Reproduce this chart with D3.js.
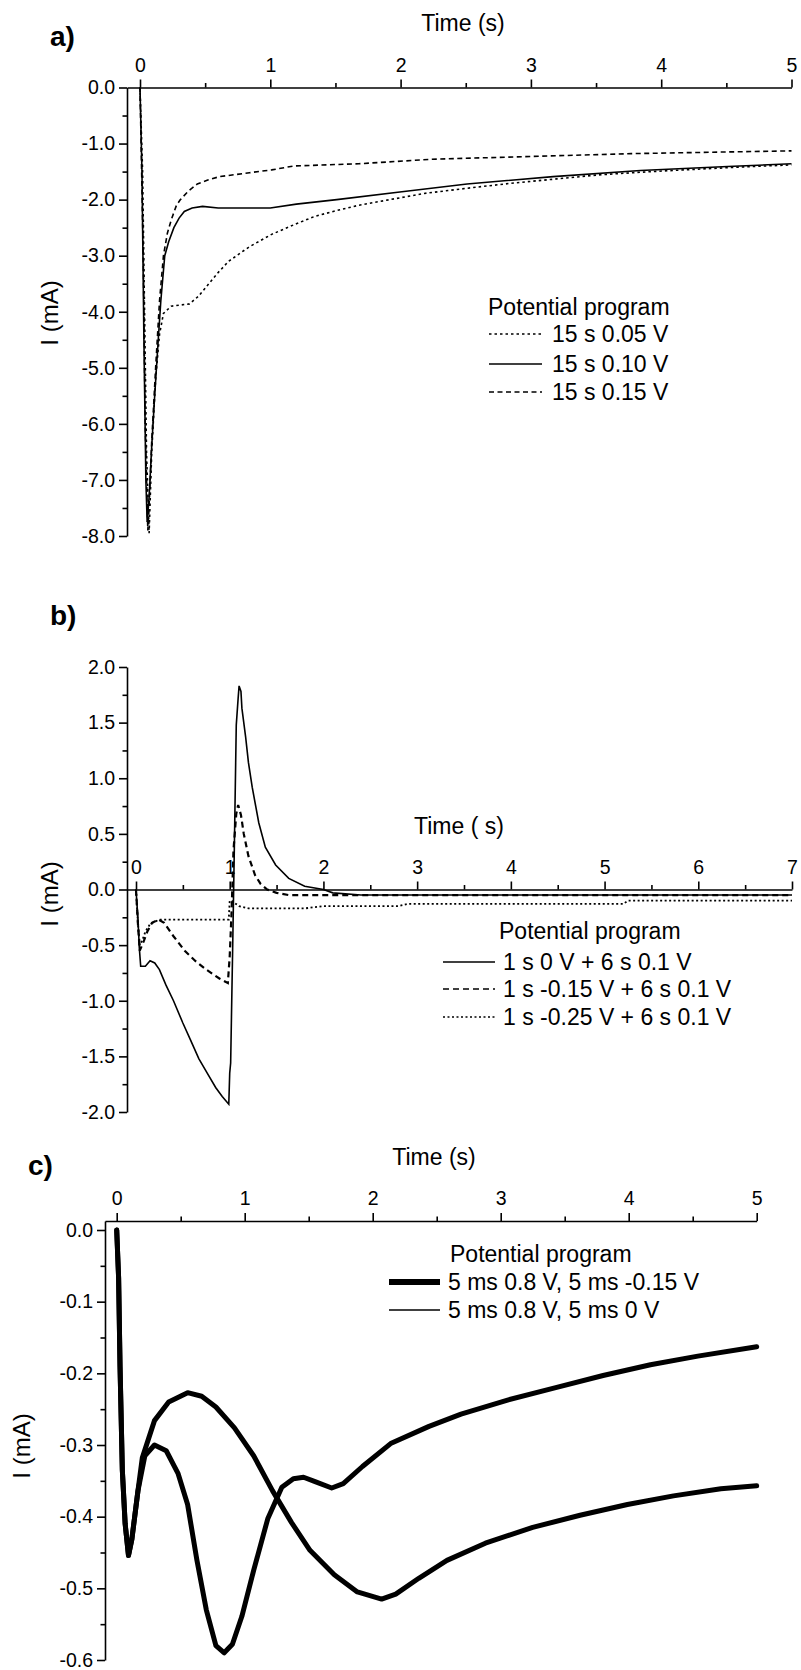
<!DOCTYPE html>
<html>
<head>
<meta charset="utf-8">
<script src="https://cdn.jsdelivr.net/npm/d3@7"></script>
<style>
body { margin: 0; background: #fff; }
svg text { font-family: "Liberation Sans", Arial, sans-serif; fill: #000; }
</style>
</head>
<body>
<div id="chart"></div>
<script>
// ---- data: [time (s), current (mA)] ----

// panel a) 15 s steps
var a005 = [[0,0],[0.02,-1.5],[0.035,-4],[0.05,-6.5],[0.07,-7.95],[0.09,-6.5],[0.12,-5.2],[0.15,-4.4],[0.18,-4.03],[0.24,-3.9],[0.38,-3.86],[0.45,-3.72],[0.51,-3.55],[0.6,-3.3],[0.68,-3.1],[0.84,-2.84],[1.01,-2.62],[1.2,-2.43],[1.34,-2.3],[1.5,-2.2],[1.68,-2.1],[2.18,-1.89],[2.5,-1.8],[2.84,-1.71],[3.2,-1.63],[3.51,-1.56],[3.85,-1.51],[4.17,-1.47],[4.6,-1.42],[5,-1.38]];
var a010 = [[0,0],[0.015,-1.5],[0.03,-4.5],[0.045,-7],[0.055,-7.75],[0.07,-7.3],[0.09,-6.4],[0.11,-5.6],[0.14,-4.5],[0.16,-3.8],[0.19,-3.0],[0.22,-2.75],[0.26,-2.5],[0.3,-2.33],[0.34,-2.21],[0.4,-2.15],[0.48,-2.12],[0.6,-2.15],[1.0,-2.15],[1.2,-2.08],[1.51,-2.0],[2.01,-1.86],[2.51,-1.72],[3.17,-1.59],[3.84,-1.48],[4.51,-1.41],[5,-1.36]];
var a015 = [[0,0],[0.01,-1.2],[0.025,-3],[0.04,-6],[0.06,-7.9],[0.075,-7.2],[0.09,-6.3],[0.12,-5],[0.15,-3.8],[0.18,-3.0],[0.21,-2.6],[0.24,-2.36],[0.28,-2.1],[0.31,-2.0],[0.37,-1.85],[0.44,-1.72],[0.52,-1.65],[0.61,-1.59],[0.84,-1.52],[1.01,-1.47],[1.18,-1.40],[1.68,-1.36],[2.24,-1.28],[3.0,-1.23],[3.77,-1.18],[4.5,-1.15],[5,-1.13]];
var aLabels = ["15 s 0.05 V", "15 s 0.10 V", "15 s 0.15 V"];
var aXTicks = [0, 1, 2, 3, 4, 5];
var aYTicks = [0, -1, -2, -3, -4, -5, -6, -7, -8];

// panel b) 1 s pre-step + 6 s 0.1 V
var b0 = [[0,0],[0.02,-0.25],[0.035,-0.52],[0.05,-0.69],[0.1,-0.69],[0.15,-0.64],[0.2,-0.66],[0.25,-0.72],[0.32,-0.86],[0.4,-1.0],[0.5,-1.2],[0.58,-1.35],[0.67,-1.52],[0.76,-1.65],[0.85,-1.78],[0.92,-1.86],[0.99,-1.93],[1.0,-1.65],[1.01,-1.56],[1.03,-0.6],[1.05,0.41],[1.07,1.48],[1.09,1.72],[1.1,1.83],[1.12,1.78],[1.13,1.63],[1.17,1.37],[1.2,1.14],[1.24,0.92],[1.31,0.6],[1.38,0.38],[1.49,0.22],[1.63,0.1],[1.8,0.03],[2.0,0.0],[2.1,-0.03],[2.4,-0.05],[3.5,-0.05],[5,-0.05],[7,-0.05]];
var b015 = [[0,0],[0.02,-0.3],[0.04,-0.55],[0.08,-0.47],[0.12,-0.38],[0.17,-0.3],[0.24,-0.27],[0.3,-0.3],[0.4,-0.42],[0.52,-0.55],[0.63,-0.64],[0.75,-0.72],[0.89,-0.8],[0.98,-0.84],[1.0,-0.6],[1.02,-0.2],[1.04,0.35],[1.07,0.68],[1.09,0.76],[1.12,0.67],[1.15,0.5],[1.2,0.3],[1.27,0.13],[1.33,0.05],[1.4,0.0],[1.5,-0.03],[1.63,-0.05],[2.5,-0.05],[7,-0.05]];
var b025 = [[0,0],[0.02,-0.3],[0.04,-0.5],[0.07,-0.45],[0.1,-0.38],[0.15,-0.31],[0.25,-0.27],[0.99,-0.27],[1.0,-0.1],[1.02,-0.1],[1.05,-0.12],[1.1,-0.15],[1.2,-0.17],[1.8,-0.17],[2.0,-0.15],[2.8,-0.15],[2.9,-0.13],[5.2,-0.13],[5.25,-0.1],[7,-0.1]];
var bLabels = ["1 s 0 V + 6 s 0.1 V", "1 s -0.15 V + 6 s 0.1 V", "1 s -0.25 V + 6 s 0.1 V"];
var bXTicks = [0, 1, 2, 3, 4, 5, 6, 7];
var bYTicks = [2, 1.5, 1, 0.5, 0, -0.5, -1, -1.5, -2];

// panel c) pulsed programs
var cNeg = [[0,0],[0.015,-0.067],[0.026,-0.19],[0.044,-0.335],[0.066,-0.41],[0.092,-0.454],[0.118,-0.432],[0.166,-0.364],[0.22,-0.315],[0.295,-0.30],[0.387,-0.308],[0.48,-0.34],[0.554,-0.383],[0.627,-0.461],[0.70,-0.53],[0.775,-0.58],[0.84,-0.59],[0.904,-0.578],[0.978,-0.539],[1.07,-0.475],[1.18,-0.403],[1.29,-0.359],[1.38,-0.347],[1.46,-0.345],[1.55,-0.351],[1.68,-0.36],[1.77,-0.354],[1.92,-0.33],[2.14,-0.298],[2.44,-0.274],[2.69,-0.257],[3.06,-0.237],[3.43,-0.22],[3.80,-0.203],[4.17,-0.188],[4.54,-0.176],[5.0,-0.163]];
var cZero = [[0,0],[0.015,-0.067],[0.026,-0.19],[0.044,-0.335],[0.066,-0.41],[0.092,-0.454],[0.118,-0.432],[0.166,-0.364],[0.2,-0.318],[0.295,-0.266],[0.406,-0.24],[0.554,-0.227],[0.664,-0.232],[0.775,-0.247],[0.92,-0.276],[1.07,-0.315],[1.218,-0.364],[1.365,-0.408],[1.51,-0.447],[1.70,-0.481],[1.88,-0.505],[2.07,-0.515],[2.18,-0.508],[2.36,-0.486],[2.58,-0.461],[2.88,-0.437],[3.25,-0.415],[3.62,-0.398],[3.99,-0.383],[4.35,-0.371],[4.72,-0.361],[5.0,-0.357]];
var cLabels = ["5 ms 0.8 V, 5 ms -0.15 V", "5 ms 0.8 V, 5 ms 0 V"];
var cXTicks = [0, 1, 2, 3, 4, 5];
var cYTicks = [0, -0.1, -0.2, -0.3, -0.4, -0.5, -0.6];

var svgWidth = 801, svgHeight = 1670;
var tickFont = 19.5, titleFont = 23, legendFont = 23;

var svg = d3.select("#chart").append("svg")
    .attr("width", svgWidth)
    .attr("height", svgHeight);

function halfSteps(ticks, step) {
    // minor ticks sit halfway between the labelled ones
    var out = [];
    for (var i = 0; i < ticks.length - 1; i++) out.push(ticks[i] + step / 2);
    return out;
}

function styleAxis(g) {
    g.attr("font-family", null).attr("font-size", null);
    g.select(".domain").attr("stroke", "#000").attr("stroke-width", 1.6);
    g.selectAll(".tick line").attr("stroke", "#000").attr("stroke-width", 1.6);
    g.selectAll("text").style("font-size", tickFont + "px");
}

// draws axes on x/y scales; xAxisY is where the time axis sits
function drawAxes(g, x, y, xTicks, yTicks, xStep, yStep, xAxisY) {
    var top = g.append("g").attr("transform", "translate(0," + xAxisY + ")")
        .call(d3.axisTop(x).tickValues(xTicks).tickSize(8).tickSizeOuter(0).tickPadding(8).tickFormat(d3.format("d")));
    styleAxis(top);
    var topMinor = g.append("g").attr("transform", "translate(0," + xAxisY + ")")
        .call(d3.axisTop(x).tickValues(halfSteps(xTicks, xStep)).tickSize(4.5).tickSizeOuter(0).tickFormat(""));
    styleAxis(topMinor);
    topMinor.select(".domain").remove();

    var left = g.append("g").attr("transform", "translate(" + x.range()[0] + ",0)")
        .call(d3.axisLeft(y).tickValues(yTicks).tickSize(8).tickSizeOuter(0).tickPadding(4).tickFormat(function(d) { return d.toFixed(1); }));
    styleAxis(left);
    var leftMinor = g.append("g").attr("transform", "translate(" + x.range()[0] + ",0)")
        .call(d3.axisLeft(y).tickValues(halfSteps(yTicks, yStep)).tickSize(4.5).tickSizeOuter(0).tickFormat(""));
    styleAxis(leftMinor);
    leftMinor.select(".domain").remove();
}

function drawLegend(g, x0, x1, tx, titleX, ty, dys, labels, styles) {
    g.append("text").attr("x", titleX).attr("y", ty).attr("dy", "0.35em")
        .style("font-size", legendFont + "px").text("Potential program");
    labels.forEach(function(lab, i) {
        var yy = ty + dys[i];
        g.append("line").attr("x1", x0).attr("x2", x1).attr("y1", yy).attr("y2", yy)
            .attr("stroke", "#000").attr("stroke-width", styles[i].w)
            .attr("stroke-dasharray", styles[i].dash);
        g.append("text").attr("x", tx).attr("y", yy).attr("dy", "0.35em")
            .style("font-size", legendFont + "px").text(lab);
    });
}

function panelLetter(txt, x, y) {
    svg.append("text").attr("x", x).attr("y", y).attr("dy", "0.35em")
        .style("font-size", "28px").style("font-weight", "bold").text(txt);
}

function xTitle(txt, x, y) {
    svg.append("text").attr("x", x).attr("y", y).attr("dy", "0.35em").attr("text-anchor", "middle")
        .style("font-size", titleFont + "px").text(txt);
}

function yTitle(cx, cy) {
    svg.append("text").attr("transform", "translate(" + cx + "," + cy + ") rotate(-90)")
        .attr("text-anchor", "middle").attr("dy", "0.35em")
        .style("font-size", "24px").text("I (mA)");
}

var line = d3.line();

// ================= panel a =================
var ax = d3.scaleLinear().domain([0, 5]).range([140, 791.5]);
ax.domain([ax.invert(127), 5]).range([127, 791.5]);
var ay = d3.scaleLinear().domain([0, -8]).range([87.5, 536]);
var ga = svg.append("g");
drawAxes(ga, ax, ay, aXTicks, aYTicks, 1, -1, ay(0));

var aStyles = [{w: 1.6, dash: "2.5,3"}, {w: 1.6, dash: null}, {w: 1.6, dash: "5,3.5"}];
[a005, a010, a015].forEach(function(s, i) {
    ga.append("path")
        .attr("d", line.x(d => ax(d[0])).y(d => ay(d[1]))(s))
        .attr("fill", "none").attr("stroke", "#000")
        .attr("stroke-width", aStyles[i].w).attr("stroke-dasharray", aStyles[i].dash);
});
drawLegend(ga, 489, 542, 552, 488, 307, [27, 57, 85], aLabels, aStyles);
panelLetter("a)", 50, 36);
xTitle("Time (s)", 463, 23);
yTitle(50, 313);

// ================= panel b =================
var bx = d3.scaleLinear().domain([0, 7]).range([136, 792]);
bx.domain([bx.invert(127), 7]).range([127, 792]);
var by = d3.scaleLinear().domain([2, -2]).range([667, 1112]);
var gb = svg.append("g");
drawAxes(gb, bx, by, bXTicks, bYTicks, 1, -0.5, by(0));

var bStyles = [{w: 1.6, dash: null}, {w: 2.2, dash: "6,4"}, {w: 1.8, dash: "2,2.5"}];
[b0, b015, b025].forEach(function(s, i) {
    gb.append("path")
        .attr("d", line.x(d => bx(d[0])).y(d => by(d[1]))(s))
        .attr("fill", "none").attr("stroke", "#000")
        .attr("stroke-width", bStyles[i].w).attr("stroke-dasharray", bStyles[i].dash);
});
drawLegend(gb, 443, 495, 503, 499, 931, [31, 58, 86], bLabels, [{w: 1.6, dash: null}, {w: 1.6, dash: "6,4"}, {w: 1.6, dash: "2,2.5"}]);
panelLetter("b)", 50, 615);
xTitle("Time ( s)", 459, 826);
yTitle(50, 894);

// ================= panel c =================
var cx = d3.scaleLinear().domain([0, 5]).range([116.7, 756.7]);
cx.domain([cx.invert(105), 5]).range([105, 756.7]);
var cy = d3.scaleLinear().domain([0, -0.6]).range([1230, 1660]);
cy.domain([cy.invert(1221), -0.6]).range([1221, 1660]);
var gc = svg.append("g");
drawAxes(gc, cx, cy, cXTicks, cYTicks, 1, -0.1, 1221);

var cStyles = [{w: 5, dash: null}, {w: 5, dash: null}];
[cNeg, cZero].forEach(function(s, i) {
    gc.append("path")
        .attr("d", line.x(d => cx(d[0])).y(d => cy(d[1]))(s))
        .attr("fill", "none").attr("stroke", "#000")
        .attr("stroke-linejoin", "round").attr("stroke-linecap", "round")
        .attr("stroke-width", cStyles[i].w);
});
drawLegend(gc, 389, 440, 448, 450, 1254, [28, 56], cLabels, [{w: 6, dash: null}, {w: 1.6, dash: null}]);
panelLetter("c)", 28, 1165);
xTitle("Time (s)", 434, 1157);
yTitle(22, 1446);
</script>
</body>
</html>
